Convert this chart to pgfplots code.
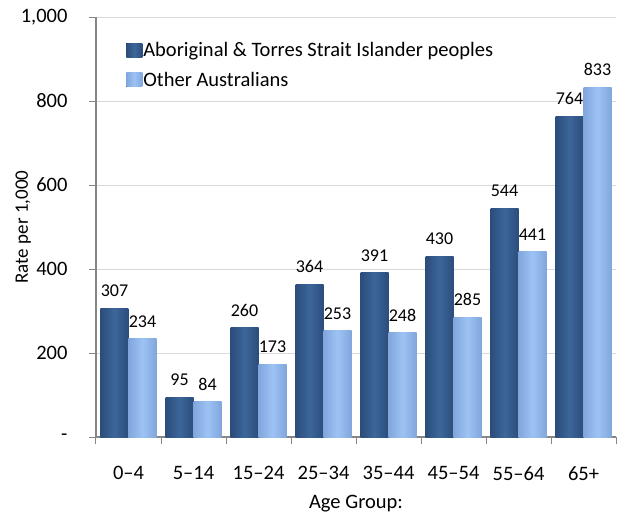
\documentclass[border=0pt]{standalone}
\usepackage{pgfplots}
\pgfplotsset{compat=1.18}
\usepackage{fontspec}
\setmainfont{Carlito}

\definecolor{darkbar}{HTML}{3D6699}
\definecolor{darkedge}{HTML}{2B4D7C}
\definecolor{lightbar}{HTML}{9DC3F5}
\definecolor{lightedge}{HTML}{80A6DC}
\definecolor{gridgray}{HTML}{D9D9D9}
\definecolor{axisgray}{HTML}{868686}

\pgfplotsset{
    darkb/.style={ybar, bar width=28pt, bar shift=-14pt, draw=none,
        left color=darkedge, right color=darkedge, middle color=darkbar},
    lightb/.style={ybar, bar width=28pt, bar shift=14pt, draw=none,
        left color=lightedge, right color=lightedge, middle color=lightbar},
}
% one plot per bar so that each bar gets its own shading
\newcommand\dbar[2]{\addplot[darkb, forget plot] coordinates {(#1,#2)};}
\newcommand\lbar[2]{\addplot[lightb, forget plot] coordinates {(#1,#2)};}

\begin{document}
\begin{tikzpicture}
\begin{axis}[
    scale only axis,
    width=520pt, height=420pt,
    ybar,
    xmin=-0.5, xmax=7.5,
    ymin=0, ymax=1000,
    axis x line*=bottom, axis y line*=left,
    axis line style={axisgray, line width=1.2pt},
    tick align=outside,
    major tick length=7pt,
    tick style={axisgray, line width=1pt},
    xtick={-0.5,0.5,...,7.5},
    x tick label as interval,
    xticklabels={0–4,5–14,15–24,25–34,35–44,45–54,55–64,65+},
    ytick={0,200,400,600,800,1000},
    yticklabels={-,200,400,600,800,{1,000}},
    ymajorgrids,
    grid style={gridgray, line width=1pt},
    tick label style={font=\fontsize{20.5}{24}\selectfont},
    xticklabel style={yshift=-19pt},
    yticklabel style={xshift=-18pt},
    xlabel={Age Group:},
    ylabel={Rate per 1,000},
    xlabel style={font=\fontsize{20.5}{24}\selectfont, yshift=-8pt},
    ylabel style={font=\fontsize{19}{22}\selectfont, yshift=-17pt},
    /pgf/number format/assume math mode=true,
    nodes near coords,
    every node near coord/.append style={font=\fontsize{18}{20}\selectfont, yshift=8pt, black},
    legend style={at={(rel axis cs:0.058,0.945)}, anchor=north west,
        draw=none, fill=none, font=\fontsize{20.5}{24}\selectfont,
        inner xsep=0pt, inner ysep=0pt, row sep=10pt,
        nodes={inner xsep=1pt}},
    legend cell align=left,
    legend image code/.code={\fill[#1] (0pt,-7pt) rectangle (16pt,7pt);},
]
\addlegendimage{darkb}
\addlegendimage{lightb}
\dbar{0}{307} \dbar{1}{95} \dbar{2}{260} \dbar{3}{364}
\dbar{4}{391} \dbar{5}{430} \dbar{6}{544} \dbar{7}{764}
\lbar{0}{234} \lbar{1}{84} \lbar{2}{173} \lbar{3}{253}
\lbar{4}{248} \lbar{5}{285} \lbar{6}{441} \lbar{7}{833}
\legend{Aboriginal \& Torres Strait Islander peoples, Other Australians}
\coordinate (bl) at (rel axis cs:-0.1846,-0.188);
\coordinate (tr) at (rel axis cs:1.0038,1.0405);
\end{axis}
\pgfresetboundingbox
\path[use as bounding box] (bl) rectangle (tr);
\end{tikzpicture}
\end{document}
